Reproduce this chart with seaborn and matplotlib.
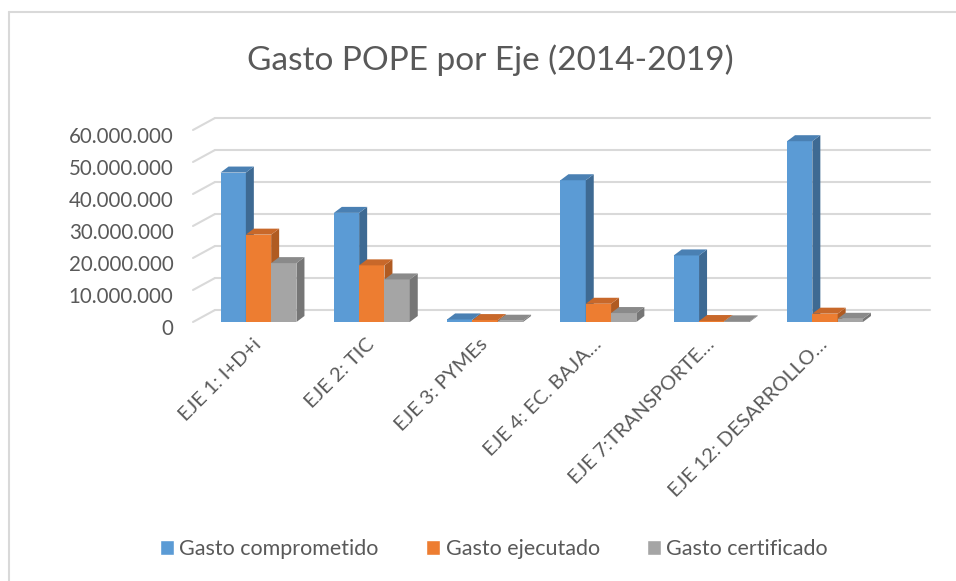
import matplotlib
matplotlib.use("Agg")
import matplotlib.pyplot as plt
from matplotlib.patches import Polygon
from matplotlib.lines import Line2D
from matplotlib.transforms import IdentityTransform, ScaledTranslation
import seaborn as sns
import pandas as pd

ejes = ["EJE 1: I+D+i", "EJE 2: TIC", "EJE 3: PYMEs", "EJE 4: EC. BAJA…",
        "EJE 7:TRANSPORTE…", "EJE 12: DESARROLLO…"]
series = ["Gasto comprometido", "Gasto ejecutado", "Gasto certificado"]
comprometido = [46.7e6, 34.1e6, 0.8e6, 44.3e6, 20.8e6, 56.5e6]
ejecutado = [27.3e6, 17.7e6, 0.6e6, 5.7e6, 0.3e6, 2.6e6]
certificado = [18.4e6, 13.3e6, 0.4e6, 2.8e6, 0.2e6, 1.0e6]
yticks = [0, 10e6, 20e6, 30e6, 40e6, 50e6, 60e6]

colors = ["#5B9BD5", "#ED7D31", "#A5A5A5"]
side_colors = ["#3E6A93", "#B05B22", "#767676"]
top_colors = ["#4A80B3", "#C8682A", "#8A8A8A"]
text_color = "#595959"

df = pd.DataFrame({
    "eje": ejes * 3,
    "serie": [s for s in series for _ in ejes],
    "valor": comprometido + ejecutado + certificado,
})

sns.set_style("white")
plt.rcParams["font.family"] = ["Lato", "DejaVu Sans"]

W, H = 956, 581
fig = plt.figure(figsize=(W / 100, H / 100), dpi=100)
ax_left, ax_right, ax_bottom, ax_top = 193, 930, 322, 130
ax = fig.add_axes([ax_left / W, 1 - ax_bottom / H,
                   (ax_right - ax_left) / W, (ax_bottom - ax_top) / H])

sns.barplot(data=df, x="eje", y="valor", hue="serie", palette=colors,
            width=0.67, saturation=1, ax=ax, legend=True)

spacing = 113.3
ax.set_xlim(-(258.5 - ax_left) / spacing, (ax_right - 258.5) / spacing)
ax.set_ylim(0, 60e6)
ax.set_yticks(yticks)
ax.set_yticklabels([f"{v:,.0f}".replace(",", ".") for v in yticks])
ax.set_xlabel("")
ax.set_ylabel("")
for s in ax.spines.values():
    s.set_visible(False)
ax.tick_params(axis="y", length=0, pad=14, labelsize=14.8, labelcolor=text_color)
ax.tick_params(axis="x", length=0, pad=14, labelsize=14.5, labelcolor=text_color)
for lab in ax.get_yticklabels():
    lab.set_transform(lab.get_transform() + ScaledTranslation(0, -5 / 100, fig.dpi_scale_trans))
for lab in ax.get_xticklabels():
    lab.set_rotation(45)
    lab.set_ha("right")
    lab.set_va("center")
    lab.set_rotation_mode("anchor")

# back-wall gridlines with left-wall stubs
gdx, gdy = 22, 12
for v in yticks:
    _, yd = ax.transData.transform((0, v))
    xl = ax_left
    ax.add_line(Line2D([xl, xl + gdx], [yd, yd + gdy], transform=IdentityTransform(),
                       color="#d9d9d9", lw=1.5, zorder=0.5, clip_on=False))
    ax.add_line(Line2D([xl + gdx, ax_right], [yd + gdy, yd + gdy],
                       transform=IdentityTransform(), color="#d9d9d9", lw=1.5,
                       zorder=0.5, clip_on=False))

# pseudo-3D faces for the bars
dx, dy = 8, 6
for i, cont in enumerate(ax.containers):
    for bar in cont:
        z = 3 + i * 0.1
        bar.set_zorder(z)
        bar.set_edgecolor("none")
        x0, y0 = ax.transData.transform((bar.get_x(), 0))
        x1, y1 = ax.transData.transform((bar.get_x() + bar.get_width(), bar.get_height()))
        side = Polygon([(x1, y0), (x1 + dx, y0 + dy), (x1 + dx, y1 + dy), (x1, y1)],
                       closed=True, transform=IdentityTransform(), facecolor=side_colors[i],
                       edgecolor="none", zorder=z, clip_on=False)
        top = Polygon([(x0, y1), (x0 + dx, y1 + dy), (x1 + dx, y1 + dy), (x1, y1)],
                      closed=True, transform=IdentityTransform(), facecolor=top_colors[i],
                      edgecolor="none", zorder=z, clip_on=False)
        ax.add_patch(side)
        ax.add_patch(top)

handles, labels = ax.get_legend_handles_labels()
ax.legend(handles, labels, loc="center", bbox_to_anchor=(494 / W, 1 - 549 / H),
          bbox_transform=fig.transFigure, ncol=3, frameon=False, fontsize=15.5,
          labelcolor=text_color, handlelength=0.65, handleheight=0.65,
          handletextpad=0.25, columnspacing=2.2)

fig.text(490 / W, 1 - 60 / H, "Gasto POPE por Eje (2014-2019)", ha="center",
         va="center", fontsize=24, color=text_color)

# chart frame (left and top edges visible)
fig.add_artist(Line2D([8.5 / W, 8.5 / W], [0, 1 - 11.5 / H], transform=fig.transFigure,
                      color="#d9d9d9", lw=1.5))
fig.add_artist(Line2D([8.5 / W, 1], [1 - 11.5 / H, 1 - 11.5 / H], transform=fig.transFigure,
                      color="#d9d9d9", lw=1.5))

fig.savefig("out.png", dpi=100)
